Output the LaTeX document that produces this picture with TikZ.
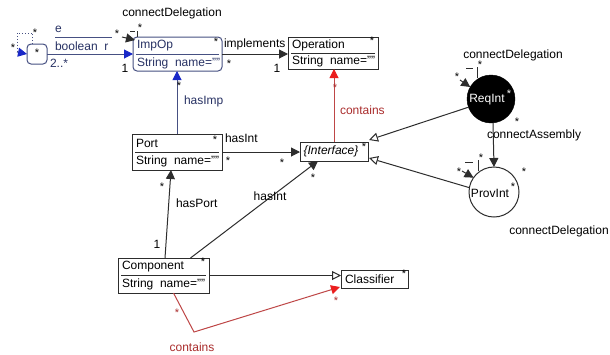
\documentclass[tikz,border=0pt]{standalone}
\usepackage{fontspec}
\setmainfont{Liberation Sans}
\usetikzlibrary{arrows.meta,calc}
\definecolor{bl}{RGB}{25,40,200}
\definecolor{bg}{RGB}{70,80,130}
\definecolor{bgt}{RGB}{40,50,100}
\definecolor{rd}{RGB}{190,70,70}
\definecolor{rdh}{RGB}{235,30,30}
\definecolor{rdt}{RGB}{170,45,45}
\definecolor{ln}{RGB}{45,45,45}
\tikzset{
  every node/.style={font=\fontsize{12}{14}\selectfont, inner sep=0pt, outer sep=0pt},
  cls/.style={draw=ln, line width=1pt, fill=white},
  txt/.style={anchor=west},
  conn/.style={draw=ln, line width=1pt},
  fat/.style={-{Triangle[length=9pt,width=9pt]}},
  bluefat/.style={-{Triangle[length=9pt,width=9pt,color=bl]}},
  redfat/.style={-{Triangle[length=9pt,width=9pt,color=rdh]}},
  gen/.style={-{Triangle[open,length=9pt,width=9pt,fill=white]}},
  star/.style={font=\fontsize{11}{12}\selectfont},
}
\begin{document}
\begin{tikzpicture}[x=1pt,y=-1pt]
\useasboundingbox[fill=white] (0,0) rectangle (610,354);

% ---------- boxes ----------
\node[cls, draw=bg, rounded corners=4pt, minimum width=20pt, minimum height=20pt] (sb) at (37,54) {};
\node[cls, draw=bg, rounded corners=4pt, minimum width=89pt, minimum height=34pt] (impop) at (177.5,54) {};
\node[cls, minimum width=90pt, minimum height=32pt] (oper) at (333,53) {};
\node[cls, minimum width=90pt, minimum height=36pt] (port) at (177,152) {};
\node[cls, minimum width=68pt, minimum height=19pt] (intf) at (334,151.5) {};
\node[cls, minimum width=91pt, minimum height=35pt] (comp) at (163.5,275.5) {};
\node[cls, minimum width=67pt, minimum height=18pt] (clsf) at (374.5,279) {};
\node[circle, fill=black, draw=black, minimum size=48pt] (req) at (491,99) {};
\node[circle, fill=white, draw=ln, line width=1pt, minimum size=50pt] (prov) at (494,192) {};

% dividers
\draw[bg, line width=1pt] ($(impop.west)+(3,0)$) -- ($(impop.east)+(-3,0)$);
\draw[ln, line width=1pt] ($(oper.west)+(3,0)$) -- ($(oper.east)+(-3,0)$);
\draw[ln, line width=1pt] ($(port.west)+(3,0)$) -- ($(port.east)+(-3,0)$);
\draw[ln, line width=1pt] ($(comp.west)+(3,0)$) -- ($(comp.east)+(-3,0)$);

% box texts
\node[txt, text=bgt] (timp1) at ($(impop.west)+(4,-8)$) {ImpOp};
\node[txt, text=bgt] (timp2) at ($(impop.west)+(4,9)$) {String\ \ name=""};
\node[txt] (top1) at ($(oper.west)+(4,-8)$) {Operation};
\node[txt] (top2) at ($(oper.west)+(4,8)$) {String\ \ name=""};
\node[txt] (tpo1) at ($(port.west)+(4,-9)$) {Port};
\node[txt] (tpo2) at ($(port.west)+(4,9)$) {String\ \ name=""};
\node (tin) at ($(intf.center)+(-3,0)$) {\itshape\{Interface\}};
\node[txt] (tco1) at ($(comp.west)+(4,-9)$) {Component};
\node[txt] (tco2) at ($(comp.west)+(4,9)$) {String\ \ name=""};
\node[txt] (tcl) at ($(clsf.west)+(4,0)$) {Classifier};
\node[text=white] (treq) at (487,100) {ReqInt};
\node (tprov) at (490,193) {ProvInt};

% stars in boxes
\node[star] (s1) at (37,53) {*};
\node[star] (s2) at (216,42) {*};
\node[star] (s3) at (372,41) {*};
\node[star] (s4) at (215,140) {*};
\node[star] (s5) at (364,147) {*};
\node[star] (s6) at (203,262) {*};
\node[star] (s7) at (404,274) {*};
\node[star, text=white] (s8) at (509,94) {*};
\node[star] (s9) at (513,187) {*};

% ---------- left small class & self loop ----------
\coordinate (sbl) at (17,52);
\draw[bg, line width=0.9pt, dotted] ($(sb.north)+(-5,0)$) |- (17,33) -- (sbl);
\draw[bg, line width=1pt, bluefat] (sbl) -- (sb.west);
\node[star] (s10) at (13,48) {*};
\node[star] (s11) at (35,33) {*};

% e line
\coordinate (ea) at (55,37);
\coordinate (eb) at (112,37);
\draw[bg, line width=1pt] (ea) -- (eb);
\node[txt, text=bgt] (te) at (55,29) {e};

% main blue line
\draw[bg, line width=1pt, bluefat] (sb.east) -- (impop.west);
\node[txt, text=bgt] (tbool) at (55,46) {boolean\ \ r};
\node[txt, text=bgt] (t2s) at (50,63) {2..*};
\node (t1a) at (125,68) {1};
\node[star] (s12) at (117,34) {*};

% ImpOp self loop (connectDelegation)
\coordinate (ia) at (122,37);
\draw[conn, fat] (ia) -- ($(impop.north west)+(2,3)$);
\draw[conn] (130,31) -- (135,31);
\draw[conn] (137,31) -- ($(impop.north west)+(4,0)$);
\node[star] (s13) at (140,28) {*};
\node (tcd1) at (172,13) {connectDelegation};

% implements
\draw[conn, fat] (impop.east) -- (oper.west |- impop.east);
\node[txt] (timpl) at (224,44) {implements};
\node[star] (s14) at (229,64) {*};
\node (t1b) at (277,68) {1};

% hasImp
\draw[bg, line width=1pt, bluefat] (port.north) -- (port.north |- impop.south);
\node[txt, text=bgt] (thasimp) at (184,101) {hasImp};
\node[star] (s15) at (179,86) {*};

% hasInt (Port -> Interface)
\draw[conn, fat] (port.east) -- (intf.west |- port.east);
\node[txt] (thasint1) at (225,138) {hasInt};
\node[star] (s16) at (228,161) {*};
\node[star] (s17) at (282,163) {*};

% hasPort
\draw[conn, fat] ($(comp.north)+(1.5,0)$) -- ($(port.south)+(-6,0)$);
\node[star] (s18) at (162,187) {*};
\node[txt] (thasport) at (176,203) {hasPort};
\node (t1c) at (157,244) {1};

% hasInt (Component -> Interface)
\draw[conn, fat] ($(comp.north)+(27,0)$) -- ($(intf.south)+(-16,0)$);
\node (thasint2) at (270,196) {hasInt};
\node[star] (s19) at (313,178) {*};

% contains (Interface -> Operation)
\draw[rd, line width=1pt, redfat] (intf.north) -- (intf.north |- oper.south);
\node[txt, text=rdt] (tcont1) at (340,110) {contains};
\node[star, text=rdt] (s20) at (335,88) {*};

% generalization Component -> Classifier
\draw[conn, gen] (comp.east) -- (clsf.west |- comp.east);

% contains (Component -> Classifier)
\coordinate (rc) at (194,332);
\draw[rd, line width=1pt, redfat] ($(comp.south)+(10,0)$) -- (rc) -- ($(clsf.south west)+(-1,-1)$);
\node[star, text=rdt] (s21) at (177,313) {*};
\node[star, text=rdt] (s22) at (336,301) {*};
\node[text=rdt] (tcont2) at (192,347) {contains};

% ReqInt / ProvInt -> Interface generalizations
\draw[conn, gen] (req.200) -- ($(intf.north east)+(1,-2)$);
\draw[conn, gen] (prov.170) -- ($(intf.south east)+(1,-3)$);

% connectAssembly
\draw[conn, fat] ($(req.south)+(2,0)$) -- (prov.north);
\node[star] (s23) at (517,122) {*};
\node[txt] (tca) at (487,135) {connectAssembly};

% ReqInt self loop
\node (tcd2) at (513,55) {connectDelegation};
\coordinate (ra) at (460,80);
\draw[conn, fat] (ra) -- (req.150);
\draw[conn] (466,68) -- (473,68);
\draw[conn] (477,67) -- (477,78);
\node[star] (s24) at (480,65) {*};
\node[star] (s25) at (457,77) {*};

% ProvInt self loop
\coordinate (pa) at (462,171);
\draw[conn, fat] (pa) -- (prov.145);
\draw[conn] (465,162) -- (473,162);
\draw[conn] (478,160) -- (478,171);
\node[star] (s26) at (481,158) {*};
\node[star] (s27) at (459,172) {*};
\node[star] (s28) at (524,172) {*};
\node (tcd3) at (559,231) {connectDelegation};
\end{tikzpicture}
\end{document}
